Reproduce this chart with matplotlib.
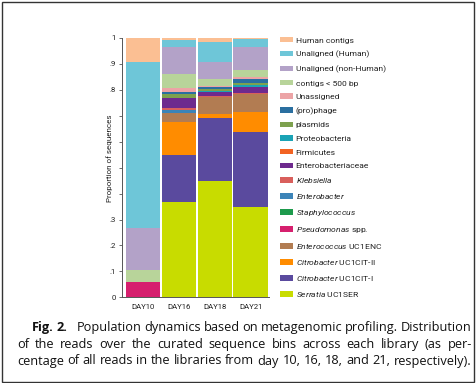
import matplotlib
matplotlib.use("Agg")
import matplotlib.pyplot as plt
from matplotlib.patches import Patch, Rectangle
import numpy as np

FONT = "Roboto"
CAP_FONT = "Open Sans"
plt.rcParams['font.family'] = [FONT, 'DejaVu Sans']
plt.rcParams['mathtext.fontset'] = 'custom'
plt.rcParams['mathtext.rm'] = FONT
plt.rcParams['mathtext.it'] = FONT + ':italic'

days = ["DAY10", "DAY16", "DAY18", "DAY21"]

# bottom-to-top stacking order
categories = [
    r"$\mathit{Serratia}$ UC1SER",
    r"$\mathit{Citrobacter}$ UC1CIT-I",
    r"$\mathit{Citrobacter}$ UC1CIT-II",
    r"$\mathit{Enterococcus}$ UC1ENC",
    r"$\mathit{Pseudomonas}$ spp.",
    r"$\mathit{Staphylococcus}$",
    r"$\mathit{Enterobacter}$",
    r"$\mathit{Klebsiella}$",
    "Enterobacteriaceae",
    "Firmicutes",
    "Proteobacteria",
    "plasmids",
    "(pro)phage",
    "Unassigned",
    "contigs < 500 bp",
    "Unaligned (non-Human)",
    "Unaligned (Human)",
    "Human contigs",
]
colors = [
    "#c8dc00", "#5a4a9e", "#ff8c00", "#b27c52", "#d6206e", "#1d9a4c",
    "#3c84b8", "#d95f5c", "#6e2a8e", "#f26322", "#1aa3b5", "#7da14e",
    "#2a6fa0", "#eca4a6", "#b8d49a", "#b3a2c8", "#6ec6d8", "#fbbf93",
]

serratia      = [0.000, 0.366, 0.450, 0.350]
citro_I       = [0.000, 0.184, 0.240, 0.289]
citro_II      = [0.000, 0.125, 0.017, 0.077]
enterococcus  = [0.000, 0.037, 0.067, 0.067]
pseudomonas   = [0.060, 0.000, 0.000, 0.000]
staphylo      = [0.000, 0.000, 0.000, 0.000]
enterobacter  = [0.000, 0.009, 0.000, 0.000]
klebsiella    = [0.000, 0.008, 0.002, 0.006]
enterobact_ae = [0.000, 0.041, 0.017, 0.021]
firmicutes    = [0.000, 0.000, 0.000, 0.000]
proteobact    = [0.000, 0.000, 0.004, 0.009]
plasmids      = [0.000, 0.014, 0.007, 0.009]
prophage      = [0.000, 0.009, 0.006, 0.014]
unassigned    = [0.000, 0.015, 0.005, 0.009]
contigs500    = [0.045, 0.052, 0.026, 0.026]
unal_nonhuman = [0.161, 0.106, 0.068, 0.089]
unal_human    = [0.641, 0.026, 0.074, 0.030]
human_contigs = [0.093, 0.008, 0.017, 0.004]

series = [serratia, citro_I, citro_II, enterococcus, pseudomonas, staphylo,
          enterobacter, klebsiella, enterobact_ae, firmicutes, proteobact,
          plasmids, prophage, unassigned, contigs500, unal_nonhuman,
          unal_human, human_contigs]

yticks = [0, .1, .2, .3, .4, .5, .6, .7, .8, .9, 1]
yticklabels = ["0", ".1", ".2", ".3", "", "", "", "", ".8", ".9", "1"]

W, H = 476, 383
fig = plt.figure(figsize=(W / 100, H / 100), dpi=100)
fig.patch.set_facecolor("white")

ax = fig.add_axes([121.7 / W, (H - 297.3) / H, 146.8 / W, 259.3 / H])
x = np.arange(len(days))
bottom = np.zeros(len(days))
handles = []
for vals, col, lab in zip(series, colors, categories):
    v = np.array(vals)
    ax.bar(x, v, bottom=bottom, width=0.96, color=col, linewidth=0)
    bottom += v
    handles.append(Patch(facecolor=col, edgecolor='none', label=lab))

ax.set_xlim(-0.6, 3.5)
ax.set_ylim(0, 1)
ax.set_xticks(x)
ax.set_xticklabels(days, fontsize=5.6, color="#222222")
ax.set_yticks(yticks)
ax.set_yticklabels(yticklabels, fontsize=5.6, color="#222222")
ax.tick_params(axis='x', length=0, pad=5)
ax.tick_params(axis='y', length=2, width=0.6, pad=2, color="#555555")
for s in ("top", "right"):
    ax.spines[s].set_visible(False)
for s in ("left", "bottom"):
    ax.spines[s].set_linewidth(0.7)
    ax.spines[s].set_color("#555555")
ax.set_ylabel("Proportion of sequences", fontsize=5.8, color="#222222")
ax.yaxis.set_label_coords(-(121.7 - 113) / 146.8, 0.537)

LEG_FS = 6.1
leg = fig.legend(handles=handles[::-1], loc="upper left",
                 bbox_to_anchor=(280 / W, 1 - 37 / H), frameon=False,
                 fontsize=LEG_FS, handlelength=1.53, handleheight=0.6,
                 handletextpad=0.32, labelspacing=0.82, borderaxespad=0,
                 borderpad=0)
for t in leg.get_texts():
    t.set_color("#222222")

# Caption with justified lines
renderer = fig.canvas.get_renderer()
last_line = "centage of all reads in the libraries from day 10, 16, 18, and 21, respectively)."
probe = fig.text(0, 0, last_line, fontsize=10, family=CAP_FONT)
probe_w = probe.get_window_extent(renderer).width
probe.remove()
CAP_FS = 10 * 452 / probe_w

def place_line(words, y_px, x0, x1, weight="normal", justify=True):
    texts = [fig.text(0, 1 - y_px / H, w, fontsize=CAP_FS, fontweight=weight,
                      family=CAP_FONT, va="baseline", ha="left",
                      color="#111111") for w in words]
    widths = [t.get_window_extent(renderer).width for t in texts]
    if justify and len(texts) > 1:
        gap = (x1 - x0 - sum(widths)) / (len(texts) - 1)
    else:
        gap = CAP_FS * 0.3
    xx = x0
    for t, w in zip(texts, widths):
        t.set_x(xx / W)
        xx += w + gap

place_line(["Fig.", "2."], 330.7, 32, 72, weight="bold", justify=False)
place_line("Population dynamics based on metagenomic profiling. Distribution".split(),
           330.7, 77, 471)
place_line("of the reads over the curated sequence bins across each library (as per-".split(),
           347.7, 17, 472)
place_line(last_line.split(), 364.5, 17, 471)

fig.patches.append(Rectangle((1.5 / W, 1.5 / H), (W - 4) / W, (H - 3) / H,
                             transform=fig.transFigure, fill=False,
                             edgecolor="#333333", linewidth=1.0))

fig.savefig("out.png", dpi=100, facecolor="white")
